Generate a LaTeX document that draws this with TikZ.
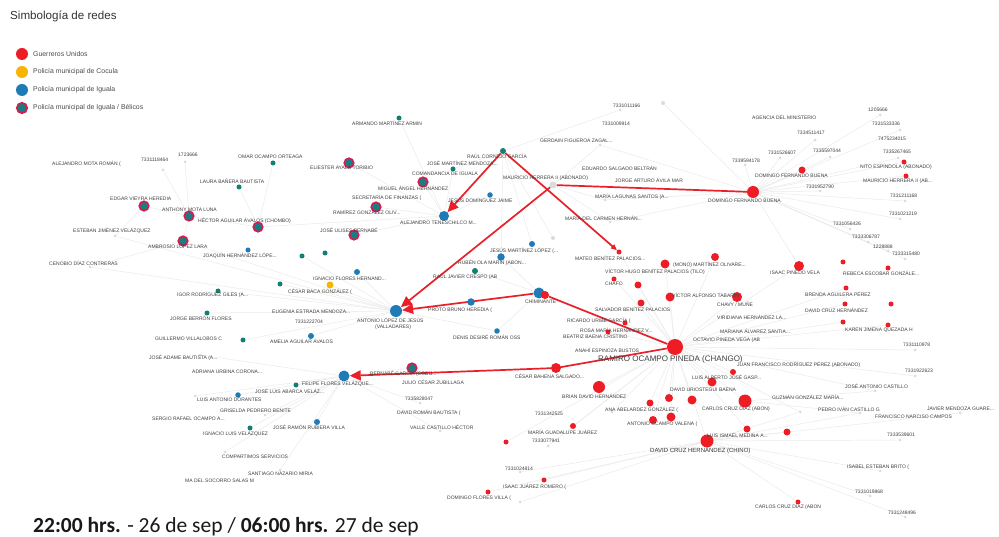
\documentclass[tikz,border=0pt]{standalone}
\usepackage{fontspec}
\setmainfont{Liberation Sans}
\newfontfamily\calib{Carlito}
\usetikzlibrary{arrows.meta}
\pgfdeclarelayer{bgA}\pgfdeclarelayer{bgB}
\pgfsetlayers{bgA,bgB,main}
\definecolor{guR}{HTML}{EE1C25}
\definecolor{lineR}{HTML}{E8202A}
\definecolor{polY}{HTML}{F7B500}
\definecolor{polB}{HTML}{1F7BB6}
\definecolor{polT}{HTML}{127F72}
\definecolor{ringR}{HTML}{D81B4A}
\definecolor{ringF}{HTML}{1A7C84}
\tikzset{
 lab/.style={anchor=west,inner sep=0pt,font=\fontsize{5}{6}\selectfont,text=black!75},
 legtxt/.style={anchor=west,inner sep=0pt,font=\fontsize{6.9}{8}\selectfont,text=black!70},
 gu/.style={circle,fill=guR,inner sep=0pt},
 pb/.style={circle,fill=polB,inner sep=0pt},
 pt/.style={circle,fill=polT,inner sep=0pt},
 py/.style={circle,fill=polY,inner sep=0pt},
 rb/.style={circle,fill=ringF,draw=ringR,line width=1.6pt,inner sep=0pt},
 ghost/.style={circle,fill=black!14,inner sep=0pt},
 redline/.style={draw=lineR,line width=1.7pt},
 bigtip/.style={-{Triangle[length=11pt,width=10pt]}},
 smalltip/.style={-{Triangle[length=6pt,width=5pt]}},
 faint/.style={draw=black!8,line width=0.5pt},
}
\newcounter{lbc}
\newcommand\mylab[3]{\stepcounter{lbc}\node[lab] (lb\arabic{lbc}) at (#1,#2) {#3};}
\newcommand\mynd[5]{\node[#1,minimum size=#5pt] (#2) at (#3,#4) {};}
\begin{document}
\begin{tikzpicture}[x=1pt,y=-1pt]
\useasboundingbox (0,0) rectangle (999,537);
\begin{pgfonlayer}{bgA}
\fill[white] (0,0) rectangle (999,537);
\end{pgfonlayer}

% ---------- legend ----------
\node[anchor=west,inner sep=0pt,font=\fontsize{11.6}{13}\selectfont,text=black!80] (title) at (10,16) {Simbología de redes};
\mynd{gu}{lg1}{22}{54}{12}
\mynd{py}{lg2}{22}{72}{12}
\mynd{pb}{lg3}{22}{90}{12}
\mynd{rb}{lg4}{22}{108}{10.5}
\node[legtxt] (lt1) at (33,54) {Guerreros Unidos};
\node[legtxt] (lt2) at (33,72) {Policía municipal de Cocula};
\node[legtxt] (lt3) at (33,90) {Policía municipal de Iguala};
\node[legtxt] (lt4) at (33,108) {Policía municipal de Iguala / Bélicos};

% ---------- ghost nodes ----------
\foreach \n/\x/\y/\s in {maur/553/185/7, g1/663/103/4, g2/553/238/4, g3/163/170/3, g4/185/162/3,
  g5/880/115/3, g6/900/130/3, g7/815/140/3, g8/780/158/3, g9/830/157/3, g10/898/158/3,
  g11/745/165/3, g12/820/191/3, g13/905/201/3, g14/900/219/3, g15/850/229/3, g16/868/242/3,
  g17/888/251/3, g18/905/259/3, g19/915/350/3, g20/915/376/3, g21/875/391/3, g22/800/412/3,
  g23/860/413/3, g24/960/413/3, g25/900/440/3, g26/880/471/3, g27/870/496/3, g28/905/517/3,
  g29/612/412/3, g30/548/446/3, g31/520/472/3, g32/420/403/3, g33/440/431/3, g34/520/502/3,
  g35/620/110/3, g36/280/470/3, g37/225/452/3, g38/195/396/3, g39/115/236/3, g40/90/267/3,
  g41/200/355/3, g42/265/415/3, g43/600/145/3, g44/605/200/3, g45/610/222/3}
  {\node[ghost,minimum size=\s pt] (\n) at (\x,\y) {};}

% ---------- Belicos ----------
\mynd{rb}{rb1}{144}{206}{9.5}
\mynd{rb}{rb2}{189}{216}{9.5}
\mynd{rb}{rb3}{258}{227}{9.5}
\mynd{rb}{rb4}{183}{241}{9.5}
\mynd{rb}{rb5}{349}{163}{9.5}
\mynd{rb}{rb6}{423}{182}{9.5}
\mynd{rb}{rb7}{376}{207}{9.5}
\mynd{rb}{rb8}{354}{235}{9.5}
\mynd{rb}{rb9}{412}{368}{9.5}

% ---------- Iguala (blue) ----------
\mynd{pb}{alej}{444}{216}{10}
\mynd{pb}{antonio}{396}{311}{12}
\mynd{pb}{felipe}{344}{376}{11}
\mynd{pb}{chim}{539}{293}{11}
\mynd{gu}{chimr}{545}{295}{8}
\mynd{pb}{joaquin}{248}{250}{5}
\mynd{pb}{ignacio}{357}{272}{6}
\mynd{pb}{amelia}{311}{336}{6}
\mynd{pb}{luisant}{238}{395}{5.5}
\mynd{pb}{joseramon}{317}{422}{6}
\mynd{pb}{jesusdom}{490}{195}{5.5}
\mynd{pb}{jesusmar}{532}{244}{6}
\mynd{pb}{ruben}{501}{257}{7.5}
\mynd{pb}{proto}{471}{302}{7.5}
\mynd{pb}{denis}{497}{331}{5.5}
\mynd{pt}{rauljav}{475}{271}{6}
% teal small
\mynd{pt}{omar}{273}{163}{5}
\mynd{pt}{laura}{239}{187}{5}
\mynd{pt}{tA}{302}{256}{5}
\mynd{pt}{tB}{325}{253}{5}
\mynd{pt}{tC}{280}{284}{5}
\mynd{pt}{igor}{218}{291}{5}
\mynd{pt}{jorge}{207}{313}{5}
\mynd{pt}{guillermo}{243}{340}{5}
\mynd{pt}{felipe2}{296}{385}{5}
\mynd{pt}{ignluis}{250}{428}{5}
\mynd{pt}{armando}{399}{118}{5}
\mynd{pt}{raul}{503}{151}{6}
\mynd{pt}{comand}{453}{169}{5}
% Cocula
\mynd{py}{cesarbaca}{330}{285}{7}

% ---------- Guerreros Unidos ----------
\foreach \n/\x/\y/\s in {ramiro/675/347/16, domingo/753/192/12, chino/707/441/13, carlos/745/401/13,
  brian/599/387/12, cesar/556/368/10, mateo/619/252/5, chafo/614/279/5,
  r9/665/264/9, r10/715/257/8, r11/638/285/7, r12/641/303/7, r13/670/297/9, r14/737/297/10,
  r15/625/323/5, r16/608/332/5, r17/712/382/9, r18/733/372/6, r19/669/398/8, r20/692/400/9,
  r21/650/403/7, r22/653/420/8, r23/671/417/9, r24/747/429/7, r25/787/432/7, r26/573/426/6,
  r27/506/442/5, r28/544/480/5, r29/488/492/5, r30/798/502/5, isaac/799/266/10,
  r32/843/262/5, r33/888/268/5, r34/846/288/5, r35/845/304/5, r36/891/304/5, r37/843/322/5,
  r38/888/325/5, r39/802/170/7, r40/904/162/5, r41/906/176/5}
  {\node[gu,minimum size=\s pt] (\n) at (\x,\y) {};}

% ---------- faint network edges ----------
\begin{pgfonlayer}{bgA}
\foreach \a/\b in {ramiro/brian, ramiro/cesar, ramiro/chafo, ramiro/r9, ramiro/r10, ramiro/r11,
  ramiro/r12, ramiro/r13, ramiro/r14, ramiro/r15, ramiro/r16, ramiro/r17, ramiro/r18, ramiro/r19,
  ramiro/r20, ramiro/r21, ramiro/r22, ramiro/r23, ramiro/r24, ramiro/r26, ramiro/r27, ramiro/isaac,
  ramiro/r35, ramiro/r37, ramiro/g19, ramiro/g20, ramiro/g21, ramiro/g29, ramiro/g30, ramiro/chino,
  ramiro/carlos, ramiro/mateo, ramiro/r34, ramiro/r38, ramiro/g22,
  domingo/r39, domingo/r40, domingo/r41, domingo/g1, domingo/g5, domingo/g6, domingo/g7, domingo/g8,
  domingo/g9, domingo/g10, domingo/g11, domingo/g12, domingo/g13, domingo/g14, domingo/g15,
  domingo/g16, domingo/g17, domingo/g18, domingo/g43, domingo/g44, domingo/g45, domingo/isaac,
  chino/r24, chino/r25, chino/r30, chino/g22, chino/g23, chino/g24, chino/g25, chino/g26, chino/g27,
  chino/g28, chino/r28, chino/r29, chino/g31, chino/g34, carlos/g21, carlos/g23,
  felipe/g36, felipe/g37, felipe/g38, felipe/luisant, felipe/ignluis, felipe/joseramon, felipe/felipe2,
  felipe/g42, felipe/rb9, felipe/g32, felipe/g33, felipe/g41,
  antonio/amelia, antonio/guillermo, antonio/jorge, antonio/igor, antonio/cesarbaca, antonio/ignacio,
  antonio/g39, antonio/g40, antonio/tC, antonio/tA, antonio/denis, antonio/proto, antonio/rb4,
  alej/rb5, alej/rb6, alej/rb7, alej/rb8, alej/comand, alej/jesusdom, alej/armando, alej/rb3,
  rb1/rb2, rb2/rb4, rb2/rb3, rb1/g39, rb4/g40, rb3/laura, omar/rb3, rb2/g3, rb2/g4,
  raul/g2, raul/jesusmar, raul/comand, raul/g35, raul/ruben, chim/rauljav, chim/ruben, chim/denis,
  maur/g43, maur/g44, maur/g45}
  {\draw[faint] (\a) -- (\b);}
\end{pgfonlayer}

% ---------- red links ----------
\begin{pgfonlayer}{bgB}
\draw[redline,bigtip] (raul) -- (alej);
\draw[redline,smalltip] (raul) -- (mateo);
\draw[redline] (domingo) -- (maur);
\draw[redline,bigtip] (maur) -- (antonio);
\draw[redline,bigtip] (chim) -- (antonio);
\draw[redline] (chimr) -- (ramiro);
\draw[redline,bigtip] (ramiro) -- (cesar.center) -- (felipe);
\end{pgfonlayer}

% ---------- labels ----------
\mylab{52}{164}{ALEJANDRO MOTA ROMÁN (}
\mylab{141}{160}{7331118464}
\mylab{178}{155}{1723666}
\mylab{238}{157}{OMAR OCAMPO ORTEAGA}
\mylab{310}{168}{ELIESTER AYALA TORIBIO}
\mylab{200}{181}{LAURA BAÑERA BAUTISTA}
\mylab{110}{199}{EDGAR VIEYRA HEREDIA}
\mylab{162}{210}{ANTHONY MOTA LUNA}
\mylab{198}{221}{HÉCTOR AGUILAR ÁVALOS (CHOMBO)}
\mylab{73}{231}{ESTEBAN JIMÉNEZ VELÁZQUEZ}
\mylab{148}{246}{AMBROSIO LÓPEZ LARA}
\mylab{203}{256}{JOAQUÍN HERNÁNDEZ LÓPE...}
\mylab{49}{263}{CENOBIO DÍAZ CONTRERAS}
\mylab{313}{279}{IGNACIO FLORES HERNAND...}
\mylab{288}{292}{CÉSAR BACA GONZÁLEZ (}
\mylab{177}{295}{IGOR RODRÍGUEZ GILES (A...}
\mylab{272}{312}{EUGENIA ESTRADA MENDOZA...}
\mylab{170}{318}{JORGE BERRÓN FLORES}
\mylab{295}{322}{7331222704}
\mylab{155}{339}{GUILLERMO VILLALOBOS C}
\mylab{270}{341}{AMELIA AGUILAR ÁVALOS}
\mylab{149}{358}{JOSÉ ADAME BAUTISTA (A...}
\mylab{192}{372}{ADRIANA URBINA CORONA...}
\mylab{302}{384}{FELIPE FLORES VELÁZQUE...}
\mylab{255}{391}{JOSÉ LUIS ABARCA VELÁZ...}
\mylab{197}{400}{LUIS ANTONIO DORANTES}
\mylab{220}{411}{GRISELDA PEDRERO BENITE}
\mylab{152}{419}{SERGIO RAFAEL OCAMPO A...}
\mylab{273}{427}{JOSÉ RAMÓN RUBIERA VILLA}
\mylab{203}{434}{IGNACIO LUIS VELÁZQUEZ}
\mylab{222}{457}{COMPARTIMOS SERVICIOS}
\mylab{248}{474}{SANTIAGO NAZARIO MIRIA}
\mylab{185}{481}{MA DEL SOCORRO SALAS M}
\mylab{352}{123}{ARMANDO MARTÍNEZ ARMIN}
\mylab{613}{106}{7331011166}
\mylab{602}{124}{7331009914}
\mylab{540}{141}{GERDAIN FIGUEROA ZAGAL...}
\mylab{467}{156}{RAÚL CORNEJO GARCÍA}
\mylab{427}{163}{JOSÉ MARTÍNEZ MENDOZA...}
\mylab{412}{174}{COMANDANCIA DE IGUALA}
\mylab{582}{168}{EDUARDO SALGADO BELTRÁN}
\mylab{503}{178}{MAURICIO HERRERA II (ABONADO)}
\mylab{615}{180}{JORGE ARTURO ÁVILA MAR}
\mylab{378}{188}{MIGUEL ÁNGEL HERNÁNDEZ}
\mylab{595}{197}{MARÍA LAGUNAS SANTOS (A...}
\mylab{352}{198}{SECRETARÍA DE FINANZAS (}
\mylab{448}{200}{JESÚS DOMÍNGUEZ JAIME}
\mylab{333}{212}{RAMÍREZ GONZÁLEZ OLIV...}
\mylab{565}{218}{MARÍA DEL CARMEN HERNÁN...}
\mylab{400}{223}{ALEJANDRO TENESCHILCO M...}
\mylab{320}{230}{JOSÉ ULISES BERNABÉ}
\mylab{490}{251}{JESÚS MARTÍNEZ LÓPEZ (...}
\mylab{575}{258}{MATEO BENÍTEZ PALACIOS...}
\mylab{458}{263}{RUBÉN OLA MARÍN (ABON...}
\mylab{433}{277}{RAÚL JAVIER CRESPO (AB}
\mylab{428}{310}{PROTO BRUNO HEREDIA (}
\mylab{525}{302}{CHIMINANTE}
\mylab{357}{320}{ANTONIO LÓPEZ DE JESÚS}
\mylab{375}{327}{(VALLADARES)}
\mylab{453}{337}{DENIS DESIRÉ ROMÁN OSS}
\mylab{370}{374}{BERNABÉ GARCÍA (COBIJ...}
\mylab{402}{382}{JULIO CÉSAR ZUBILLAGA}
\mylab{515}{376}{CÉSAR BAHENA SALGADO...}
\mylab{405}{399}{7335828047}
\mylab{397}{413}{DAVID ROMÁN BAUTISTA (}
\mylab{410}{427}{VALLE CASTILLO HÉCTOR}
\mylab{535}{414}{7331342525}
\mylab{528}{432}{MARÍA GUADALUPE JUÁREZ}
\mylab{532}{441}{7333077941}
\mylab{505}{469}{7331024814}
\mylab{503}{487}{ISAAC JUÁREZ ROMERO (}
\mylab{447}{498}{DOMINGO FLORES VILLA (}
\mylab{752}{118}{AGENCIA DEL MINISTERIO}
\mylab{868}{110}{1205666}
\mylab{872}{124}{7331533336}
\mylab{797}{133}{7334511417}
\mylab{878}{139}{7475234015}
\mylab{768}{153}{7331526607}
\mylab{813}{151}{7335597044}
\mylab{883}{152}{7335267465}
\mylab{732}{161}{7339594178}
\mylab{860}{167}{NITO ESPÍNDOLA (ABONADO)}
\mylab{755}{176}{DOMINGO FERNANDO BUENA}
\mylab{863}{181}{MAURICIO HERRERA II (AB...}
\mylab{806}{187}{7331952790}
\mylab{708}{201}{DOMINGO FERNANDO BUENA}
\mylab{890}{196}{7331211168}
\mylab{889}{214}{7331021219}
\mylab{833}{224}{7331056426}
\mylab{852}{237}{7333306787}
\mylab{873}{247}{1228888}
\mylab{892}{254}{7333315480}
\mylab{673}{265}{(MONO) MARTÍNEZ OLIVARE...}
\mylab{605}{272}{VÍCTOR HUGO BENÍTEZ PALACIOS (TILO)}
\mylab{770}{273}{ISAAC PINEDO VELA}
\mylab{843}{273}{REBECA ESCOBAR GONZÁLE...}
\mylab{605}{284}{CHAFO}
\mylab{805}{294}{BRENDA AGUILERA PÉREZ}
\mylab{672}{295}{VÍCTOR ALFONSO TABARÍN}
\mylab{717}{304}{CHAVY / MUÑE}
\mylab{595}{309}{SALVADOR BENÍTEZ PALACIOS}
\mylab{805}{310}{DAVID CRUZ HERNÁNDEZ}
\mylab{717}{317}{VIRIDIANA HERNÁNDEZ LA...}
\mylab{567}{321}{RICARDO URIBE GARCÍA (}
\mylab{580}{330}{ROSA MARÍA HERNÁNDEZ V...}
\mylab{845}{330}{KAREN JIMENA QUEZADA H}
\mylab{720}{331}{MARIANA ÁLVAREZ SANTIA...}
\mylab{563}{337}{BEATRIZ BAENA CRISTINO}
\mylab{693}{340}{OCTAVIO PINEDA VEGA (AB}
\mylab{903}{345}{7331110978}
\mylab{575}{350}{ANAHÍ ESPINOZA BUSTOS}
\node[anchor=west,inner sep=0pt,font=\fontsize{8}{9}\selectfont,text=black!75] (ramirolab) at (598,359) {RAMIRO OCAMPO PINEDA (CHANGO)};
\mylab{737}{365}{JUAN FRANCISCO RODRÍGUEZ PÉREZ (ABONADO)}
\mylab{905}{371}{7331922623}
\mylab{692}{377}{LUIS ALBERTO JOSÉ GASP...}
\mylab{845}{386}{JOSÉ ANTONIO CASTILLO}
\mylab{670}{390}{DAVID URIOSTEGUI BAENA}
\mylab{562}{396}{BRIAN DAVID HERNÁNDEZ}
\mylab{772}{397}{GUZMÁN GONZÁLEZ MARÍA...}
\mylab{605}{410}{ANA ABELARDEZ GONZÁLEZ (}
\mylab{702}{409}{CARLOS CRUZ DÍAZ (ABON)}
\mylab{818}{409}{PEDRO IVÁN CASTILLO G}
\mylab{927}{409}{JAVIER MENDOZA GUARE...}
\mylab{875}{417}{FRANCISCO NARCISO CAMPOS}
\mylab{627}{424}{ANTONIO OCAMPO VALENA (}
\mylab{707}{436}{LUIS ISMAEL MEDINA A...}
\mylab{887}{435}{7333539601}
\node[anchor=west,inner sep=0pt,font=\fontsize{6}{7}\selectfont,text=black!80] (chinolab) at (650,451) {DAVID CRUZ HERNÁNDEZ (CHINO)};
\mylab{847}{467}{ISABEL ESTEBAN BRITO (}
\mylab{855}{492}{7331019868}
\mylab{755}{507}{CARLOS CRUZ DÍAZ (ABON}
\mylab{888}{513}{7331248496}

% ---------- caption ----------
\node[anchor=base west,inner sep=0pt,font=\calib\fontsize{21.5}{24}\selectfont,text=black!90] (fecha) at (33,532) {\textbf{22:00 hrs.} - 26 de sep / \textbf{06:00 hrs.} 27 de sep};
\end{tikzpicture}
\end{document}
